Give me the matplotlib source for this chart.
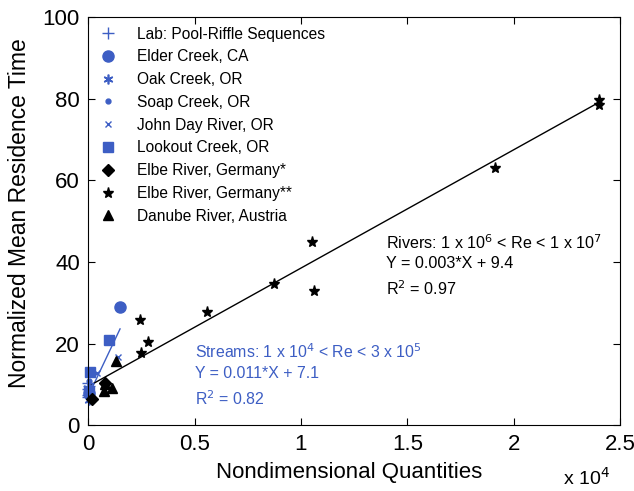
import numpy as np
import matplotlib
matplotlib.use("Agg")
import matplotlib.pyplot as plt
import matplotlib as mpl

mpl.rcParams['font.family'] = ['Liberation Sans', 'DejaVu Sans']
mpl.rcParams['xtick.direction'] = 'in'
mpl.rcParams['ytick.direction'] = 'in'
mpl.rcParams['xtick.top'] = True
mpl.rcParams['ytick.right'] = True
mpl.rcParams['axes.linewidth'] = 0.8

BLUE = "#3d5ec4"

# x values in units of 10^4
lab_x = [0.0005, 0.001, 0.002, 0.0008, 0.0015]
lab_y = [7.5, 8.8, 9.6, 10.3, 6.8]
elder_x = [0.15, 0.003]
elder_y = [29.0, 8.0]
oak_x = [0.002, 0.004, 0.001]
oak_y = [6.2, 7.8, 9.0]
soap_x = [0.003, 0.006]
soap_y = [8.5, 10.8]
john_x = [0.14, 0.04, 0.01]
john_y = [16.7, 12.7, 9.5]
lookout_x = [0.10, 0.01, 0.004]
lookout_y = [20.8, 13.0, 8.2]
elbe1_x = [0.08, 0.02]
elbe1_y = [10.3, 6.5]
elbe2_x = [2.40, 2.40, 1.91, 1.05, 0.875, 1.06, 0.56, 0.245, 0.28, 0.25]
elbe2_y = [79.6, 78.6, 63.0, 45.0, 34.6, 32.8, 27.7, 25.7, 20.3, 17.8]
danube_x = [0.13, 0.08, 0.11, 0.075]
danube_y = [15.7, 10.0, 9.2, 8.4]

# fits (Y = a*X + b, X in raw units)
streams_fit = (0.011, 7.1)
streams_range = (0.0, 0.15)
rivers_fit = (0.0029, 9.5)
rivers_range = (0.0, 2.40)

fig = plt.figure(figsize=(6.34, 4.91), dpi=100)
ax = fig.add_axes([0.139, 0.134, 0.839, 0.831])

xs = np.array(streams_range)
ax.plot(xs, streams_fit[0] * xs * 1e4 + streams_fit[1], "-", color=BLUE, lw=1.0)
xr = np.array(rivers_range)
ax.plot(xr, rivers_fit[0] * xr * 1e4 + rivers_fit[1], "-", color="k", lw=1.0)

kw = dict(ls="none", clip_on=False)
ax.plot(lab_x, lab_y, "+", color=BLUE, ms=8, mew=1.0, label="Lab: Pool-Riffle Sequences", **kw)
ax.plot(elder_x, elder_y, "o", color=BLUE, ms=8, label="Elder Creek, CA", **kw)
ax.plot(oak_x, oak_y, marker=(6, 2, 0), color=BLUE, ms=7, mew=1.2, label="Oak Creek, OR", **kw)
ax.plot(soap_x, soap_y, "o", color=BLUE, ms=3.5, label="Soap Creek, OR", **kw)
ax.plot(john_x, john_y, "x", color=BLUE, ms=5, mew=1.0, label="John Day River, OR", **kw)
ax.plot(lookout_x, lookout_y, "s", color=BLUE, ms=6.5, label="Lookout Creek, OR", **kw)
ax.plot(elbe1_x, elbe1_y, "D", color="k", ms=6, label="Elbe River, Germany*", **kw)
ax.plot(elbe2_x, elbe2_y, "*", color="k", ms=8, label="Elbe River, Germany**", **kw)
ax.plot(danube_x, danube_y, "^", color="k", ms=7.5, label="Danube River, Austria", **kw)

ax.set_xlim(0, 2.5)
ax.set_ylim(0, 100)
ax.set_xticks([0, 0.5, 1, 1.5, 2, 2.5])
ax.set_xticklabels(["0", "0.5", "1", "1.5", "2", "2.5"])
ax.set_yticks([0, 20, 40, 60, 80, 100])
ax.tick_params(labelsize=16, length=5, width=0.8, pad=6)
ax.set_xlabel("Nondimensional Quantities", fontsize=16)
ax.set_ylabel("Normalized Mean Residence Time", fontsize=16.5)
ax.xaxis.set_label_coords(0.49, -0.09)
ax.yaxis.set_label_coords(-0.108, 0.52)
fig.text(0.962, 0.012, r"x 10$^4$", fontsize=14, ha="right", va="baseline")

ax.legend(loc="upper left", frameon=False, fontsize=11.2, labelspacing=0.5,
          handletextpad=1.12, borderaxespad=0.2, handlelength=1.4)

ax.text(1.40, 44.7, r"Rivers: 1 x 10$^6$ < Re < 1 x 10$^7$", fontsize=11.6, va="center")
ax.text(1.40, 39.7, "Y = 0.003*X + 9.4", fontsize=11.6, va="center")
ax.text(1.40, 33.5, r"R$^2$ = 0.97", fontsize=11.6, va="center")

ax.text(0.50, 18.0, r"Streams: 1 x 10$^4$ < Re < 3 x 10$^5$", fontsize=11.4, va="center", color=BLUE)
ax.text(0.50, 12.7, "Y = 0.011*X + 7.1", fontsize=11.4, va="center", color=BLUE)
ax.text(0.50, 6.4, r"R$^2$ = 0.82", fontsize=11.4, va="center", color=BLUE)

fig.savefig("out.png", dpi=100)
